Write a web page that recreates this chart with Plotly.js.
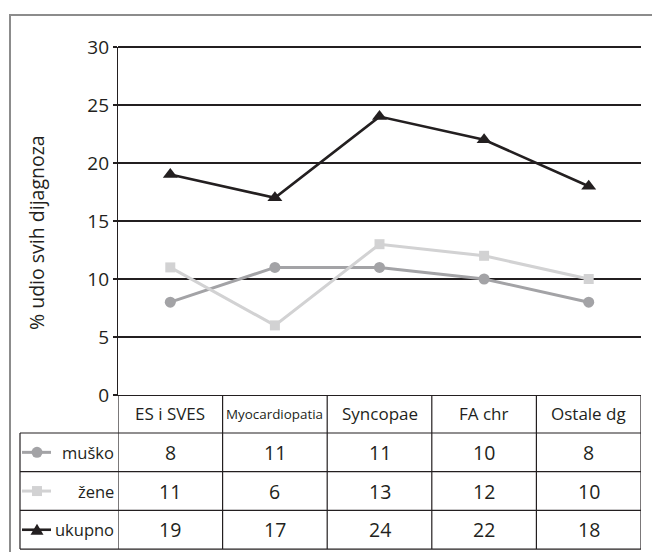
<!DOCTYPE html>
<html>
<head>
<meta charset="utf-8">
<script src="https://cdn.plot.ly/plotly-3.0.1.min.js"></script>
<style>
  html, body { margin: 0; padding: 0; background: #fff; }
  #chart { width: 652px; height: 552px; }
</style>
</head>
<body>
<div id="chart"></div>
<script>
// Share of all diagnoses (%) by diagnosis group and sex
const categories = ['ES i SVES', 'Myocardiopatia', 'Syncopae', 'FA chr', 'Ostale dg'];
const seriesNames = ['muško', 'žene', 'ukupno'];
const musko  = [8, 11, 11, 10, 8];
const zene   = [11, 6, 13, 12, 10];
const ukupno = [19, 17, 24, 22, 18];
const yTicks = [0, 5, 10, 15, 20, 25, 30];

const seriesValues = [musko, zene, ukupno];
const colors = ['#a3a3a6', '#d2d2d3', '#231f20'];
const symbols = ['circle', 'square', 'triangle-up'];
const markerSizes = [11, 10, 13];
const ink = '#231f20';
const FONT = '"Open Sans", "Noto Sans", sans-serif';

// plot-area geometry in pixels (from the margins below)
const W = 652, Hfig = 552;
const M = { l: 118, r: 11, t: 47, b: 157 };
const PW = W - M.l - M.r, PH = Hfig - M.t - M.b;
const px = x => (x - M.l) / PW;            // pixel x -> paper
const py = y => (M.t + PH - y) / PH;       // pixel y -> paper

const xIdx = categories.map((_, i) => i);

const traces = seriesValues.map((vals, k) => ({
  type: 'scatter',
  mode: 'lines+markers',
  name: seriesNames[k],
  x: xIdx,
  y: vals,
  line: { color: colors[k], width: k === 2 ? 2.6 : 3 },
  marker: { color: colors[k], symbol: symbols[k], size: markerSizes[k], line: { width: 0 } },
  cliponaxis: false,
  hoverinfo: 'x+y'
}));

// data table under the plot
const headerTop = 395, headerBottom = 433, rowH = 38.7;
const rowLines = [headerBottom, headerBottom + rowH, headerBottom + 2 * rowH, headerBottom + 3 * rowH];
const tableBottom = rowLines[3];
const labelLeft = 20;

const shapes = [];
// outer frame
shapes.push({ type: 'rect', xref: 'paper', yref: 'paper',
  x0: px(10), x1: px(670), y0: py(15), y1: py(575),
  line: { color: '#8c8c8c', width: 2 }, fillcolor: 'rgba(0,0,0,0)', layer: 'below' });
// top gridline at the upper end of the value range (paper y = 1)
shapes.push({ type: 'line', xref: 'paper', yref: 'paper',
  x0: 0, x1: 1, y0: 1, y1: 1,
  line: { color: ink, width: 2 } });
// horizontal table rules
rowLines.forEach(y => shapes.push({ type: 'line', xref: 'paper', yref: 'paper',
  x0: px(labelLeft), x1: 1, y0: py(y), y1: py(y), line: { color: ink, width: 1.2 } }));
// vertical column rules
for (let i = 0; i <= categories.length; i++) {
  shapes.push({ type: 'line', xref: 'x', yref: 'paper',
    x0: i - 0.5, x1: i - 0.5, y0: py(headerTop), y1: py(tableBottom),
    line: { color: ink, width: 1.2 } });
}
// label column left edge
shapes.push({ type: 'line', xref: 'paper', yref: 'paper',
  x0: px(labelLeft), x1: px(labelLeft), y0: py(headerBottom), y1: py(tableBottom),
  line: { color: ink, width: 1.2 } });

// legend keys in the table's label column
const keyX0 = 22, keyX1 = 51, keyCx = 37;
seriesNames.forEach((_, k) => {
  const cy = (rowLines[k] + rowLines[k + 1]) / 2;
  shapes.push({ type: 'line', xref: 'paper', yref: 'paper',
    x0: px(keyX0), x1: px(keyX1), y0: py(cy), y1: py(cy),
    line: { color: colors[k], width: k === 2 ? 2.6 : 3 } });
  if (k === 0) {
    const r = 5.5;
    shapes.push({ type: 'circle', xref: 'paper', yref: 'paper',
      x0: px(keyCx - r), x1: px(keyCx + r), y0: py(cy - r), y1: py(cy + r),
      fillcolor: colors[k], line: { width: 0 } });
  } else if (k === 1) {
    const r = 5;
    shapes.push({ type: 'rect', xref: 'paper', yref: 'paper',
      x0: px(keyCx - r), x1: px(keyCx + r), y0: py(cy - r), y1: py(cy + r),
      fillcolor: colors[k], line: { width: 0 } });
  } else {
    // triangle key drawn in pixel offsets around an anchor
    shapes.push({ type: 'path', xref: 'paper', yref: 'paper',
      xsizemode: 'pixel', ysizemode: 'pixel',
      xanchor: px(keyCx), yanchor: py(cy),
      path: 'M -6.5 -5 L 6.5 -5 L 0 6 Z',
      fillcolor: colors[k], line: { width: 0 } });
  }
});

const annotations = [];
// y-axis title
annotations.push({ xref: 'paper', yref: 'paper', x: px(36), y: py(233),
  text: '% udio svih dijagnoza', textangle: -90, showarrow: false,
  font: { family: FONT, size: 19.5, color: ink }, xanchor: 'center', yanchor: 'middle' });
// header row: category names
categories.forEach((c, i) => annotations.push({ xref: 'x', yref: 'paper', x: i,
  y: py((headerTop + headerBottom) / 2), text: c, showarrow: false,
  font: { family: FONT, size: c.length > 10 ? 13.4 : 17, color: ink },
  xanchor: 'center', yanchor: 'middle' }));
// body rows: series labels and values
seriesNames.forEach((name, k) => {
  const cy = (rowLines[k] + rowLines[k + 1]) / 2;
  annotations.push({ xref: 'paper', yref: 'paper', x: px(116), y: py(cy),
    text: name, showarrow: false, xanchor: 'right', yanchor: 'middle',
    font: { family: FONT, size: 16.5, color: ink } });
  seriesValues[k].forEach((v, i) => annotations.push({ xref: 'x', yref: 'paper', x: i,
    y: py(cy), text: String(v), showarrow: false, xanchor: 'center', yanchor: 'middle',
    font: { family: FONT, size: 19.5, color: ink } }));
});

const layout = {
  width: W, height: Hfig,
  margin: M,
  paper_bgcolor: '#ffffff',
  plot_bgcolor: '#ffffff',
  showlegend: false,
  font: { family: FONT, color: ink },
  xaxis: {
    range: [-0.5, categories.length - 0.5],
    showgrid: false, zeroline: false,
    showticklabels: false, ticks: '',
    showline: true, linecolor: ink, linewidth: 1.2,
    fixedrange: true
  },
  yaxis: {
    range: [0, 30],
    tickvals: yTicks,
    ticktext: yTicks.map(String),
    showgrid: true, gridcolor: ink, gridwidth: 1.2,
    zeroline: false,
    showline: true, linecolor: ink, linewidth: 1.2,
    ticks: 'outside', ticklen: 4, tickcolor: ink, tickwidth: 1.2,
    tickfont: { family: FONT, size: 19, color: ink },
    fixedrange: true
  },
  shapes: shapes,
  annotations: annotations
};

Plotly.newPlot('chart', traces, layout, { displayModeBar: false, staticPlot: true });
</script>
</body>
</html>
